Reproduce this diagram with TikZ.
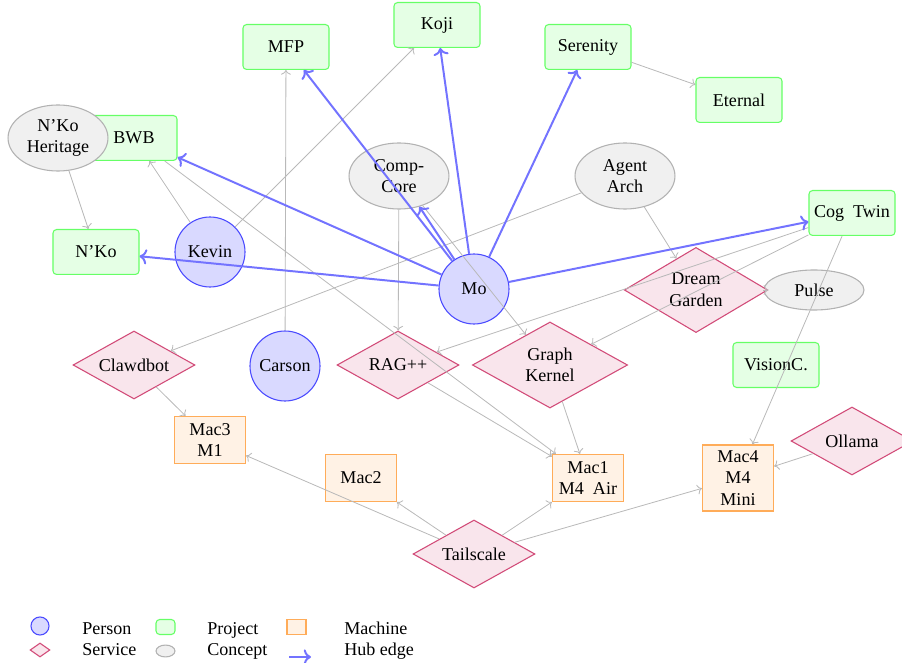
\documentclass[tikz,border=0pt]{standalone}
\usepackage{fontspec}
\setmainfont{Liberation Serif}
\usetikzlibrary{shapes.geometric,arrows.meta}
\begin{document}
\begin{tikzpicture}[x=0.5543pt,y=-0.5543pt,
  font=\fontsize{10pt}{12pt}\selectfont,
  base/.style={align=center,inner sep=0pt,line width=0.6pt},
  person/.style={base,circle,draw=blue!70,fill=blue!15,minimum size=38.8pt},
  project/.style={base,rectangle,rounded corners=2pt,draw=green!60,fill=green!10,minimum width=47.7pt,minimum height=24.9pt},
  concept/.style={base,ellipse,draw=gray!60,fill=gray!12,minimum width=55.4pt,minimum height=36.6pt},
  service/.style={base,diamond,aspect=1.8,draw=purple!70,fill=purple!10,minimum width=67.6pt,minimum height=37.7pt},
  bigservice/.style={service,minimum width=84.5pt,minimum height=47.7pt},
  machine/.style={base,rectangle,draw=orange!65,fill=orange!10,minimum width=39.4pt,minimum height=26.1pt},
  link/.style={draw=gray!55,line width=0.45pt,->},
  hub/.style={draw=blue!55,line width=1.1pt,->},
  legtext/.style={anchor=base west,inner sep=0pt}
]
\useasboundingbox (0,0) rectangle (902,663);

% projects
\node[project] (mfp) at (286,47) {MFP};
\node[project] (koji) at (437,25) {Koji};
\node[project] (serenity) at (588,47) {Serenity};
\node[project] (eternal) at (739,100) {Eternal};
\node[project] (bwb) at (134,138) {BWB};
\node[project] (nko) at (96,252) {N'Ko};
\node[project] (cogtwin) at (852,213) {Cog\ \ Twin};
\node[project] (visionc) at (776,365) {VisionC.};

% concepts
\node[concept] (heritage) at (58,138) {N'Ko\\Heritage};
\node[concept] (compcore) at (399,176) {Comp-\\Core};
\node[concept] (agentarch) at (625,176) {Agent\\Arch};
\node[concept,minimum height=22.2pt] (pulse) at (814,290) {Pulse};

% persons
\node[person] (kevin) at (210,252) {Kevin};
\node[person] (carson) at (285,366) {Carson};
\node[person] (mo) at (474,289) {Mo};

% services
\node[bigservice,minimum width=79.5pt,minimum height=47.2pt] (dream) at (696,290) {Dream\\Garden};
\node[service] (clawdbot) at (134,365) {Clawdbot};
\node[service] (rag) at (398,365) {RAG++};
\node[bigservice,minimum width=86pt] (graph) at (550,365) {Graph\\Kernel};
\node[service] (ollama) at (852,441) {Ollama};
\node[service] (tailscale) at (474,554) {Tailscale};

% machines
\node[machine] (mac3) at (210,440) {Mac3\\M1};
\node[machine] (mac2) at (361,478) {Mac2};
\node[machine] (mac1) at (588,478) {Mac1\\M4\ \ Air};
\node[machine,minimum height=36.6pt] (mac4) at (738,478) {Mac4\\M4\\Mini};

% gray links
\draw[link] (heritage) -- (nko);
\draw[link] (kevin) -- (bwb);
\draw[link] (kevin) -- (koji);
\draw[link] (carson) -- (mfp);
\draw[link] (bwb) -- (mac1);
\draw[link] (compcore) -- (rag);
\draw[link] (compcore) -- (graph);
\draw[link] (agentarch) -- (clawdbot);
\draw[link] (agentarch) -- (dream);
\draw[link] (serenity) -- (eternal);
\draw[link] (cogtwin) -- (rag);
\draw[link] (cogtwin) -- (graph);
\draw[link] (cogtwin) -- (mac4);
\draw[link] (pulse) -- (dream);
\draw[link] (rag) -- (mac1);
\draw[link] (graph) -- (mac1);
\draw[link] (clawdbot) -- (mac3);
\draw[link] (tailscale) -- (mac3);
\draw[link] (tailscale) -- (mac2);
\draw[link] (tailscale) -- (mac1);
\draw[link] (tailscale) -- (mac4);
\draw[link] (ollama) -- (mac4);

% hub edges
\draw[hub] (mo) -- (mfp);
\draw[hub] (mo) -- (koji);
\draw[hub] (mo) -- (serenity);
\draw[hub] (mo) -- (bwb);
\draw[hub] (mo) -- (nko);
\draw[hub] (mo) -- (compcore);
\draw[hub] (mo) -- (cogtwin);

% legend
\node[person,minimum size=10pt] (lgperson) at (40,626) {};
\node[service,minimum width=11pt,minimum height=7.8pt] (lgservice) at (40,650) {};
\node[project,minimum width=10.5pt,minimum height=8.3pt] (lgproject) at (165.5,627) {};
\node[concept,minimum width=10.5pt,minimum height=6.6pt] (lgconcept) at (165.5,651) {};
\node[machine,minimum width=10.5pt,minimum height=8.3pt] (lgmachine) at (296.5,627) {};
\coordinate (lghubA) at (289,657);
\coordinate (lghubB) at (311,657);
\draw[hub] (lghubA) -- (lghubB);
\node[legtext] (tperson) at (82,635) {Person};
\node[legtext] (tservice) at (82,656) {Service};
\node[legtext] (tproject) at (207,635) {Project};
\node[legtext] (tconcept) at (207,656) {Concept};
\node[legtext] (tmachine) at (344,635) {Machine};
\node[legtext] (thub) at (344,656) {Hub edge};
\end{tikzpicture}
\end{document}
